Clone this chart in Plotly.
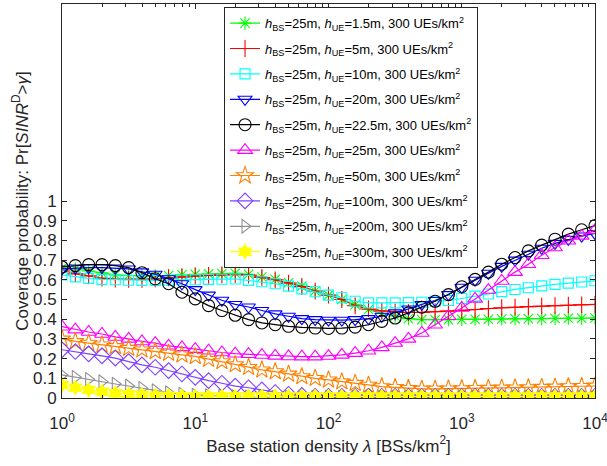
import numpy as np
import plotly.graph_objects as go

# x: base station density, 10 points per decade from 1 to 1e4
k = np.arange(41)
density = 10 ** (k / 10)

h_ue_labels = ["1.5m", "5m", "10m", "20m", "22.5m", "25m", "50m", "100m", "200m", "300m"]

cov_1p5 = [0.66, 0.655, 0.645, 0.635, 0.625, 0.622, 0.62, 0.62, 0.622, 0.625,
           0.628, 0.63, 0.632, 0.633, 0.628, 0.614, 0.602, 0.585, 0.568, 0.543,
           0.522, 0.50, 0.474, 0.449, 0.429, 0.415, 0.403, 0.398, 0.397, 0.398,
           0.399, 0.40, 0.40, 0.401, 0.402, 0.403, 0.403, 0.404, 0.405, 0.405, 0.406]
cov_5 = [0.65, 0.63, 0.62, 0.608, 0.603, 0.602, 0.602, 0.605, 0.61, 0.615,
         0.62, 0.622, 0.625, 0.627, 0.624, 0.612, 0.60, 0.583, 0.566, 0.543,
         0.522, 0.50, 0.468, 0.452, 0.442, 0.437, 0.434, 0.435, 0.438, 0.441,
         0.445, 0.449, 0.454, 0.458, 0.461, 0.464, 0.466, 0.469, 0.471, 0.473, 0.475]
cov_10 = [0.625, 0.615, 0.607, 0.602, 0.60, 0.598, 0.597, 0.597, 0.598, 0.60,
          0.60, 0.602, 0.603, 0.604, 0.597, 0.59, 0.58, 0.568, 0.554, 0.539,
          0.522, 0.509, 0.491, 0.483, 0.483, 0.483, 0.484, 0.486, 0.491, 0.495,
          0.505, 0.517, 0.528, 0.54, 0.551, 0.56, 0.569, 0.577, 0.583, 0.589, 0.595]
cov_20 = [0.655, 0.66, 0.662, 0.662, 0.66, 0.655, 0.64, 0.628, 0.605, 0.58,
          0.55, 0.522, 0.496, 0.475, 0.462, 0.444, 0.427, 0.415, 0.403, 0.398,
          0.395, 0.395, 0.398, 0.403, 0.415, 0.432, 0.452, 0.475, 0.495, 0.525,
          0.562, 0.598, 0.633, 0.668, 0.70, 0.73, 0.76, 0.785, 0.805, 0.822, 0.835]
cov_22p5 = [0.665, 0.672, 0.677, 0.677, 0.672, 0.662, 0.636, 0.605, 0.58, 0.537,
            0.503, 0.469, 0.444, 0.42, 0.398, 0.381, 0.372, 0.364, 0.359, 0.355,
            0.353, 0.355, 0.36, 0.372, 0.389, 0.406, 0.432, 0.461, 0.491, 0.525,
            0.565, 0.602, 0.639, 0.679, 0.713, 0.747, 0.776, 0.806, 0.832, 0.854, 0.875]
cov_25 = [0.362, 0.347, 0.335, 0.325, 0.31, 0.30, 0.287, 0.279, 0.265, 0.257,
          0.248, 0.24, 0.231, 0.225, 0.222, 0.218, 0.214, 0.211, 0.21, 0.21,
          0.213, 0.219, 0.228, 0.24, 0.257, 0.279, 0.30, 0.33, 0.372, 0.415,
          0.457, 0.503, 0.548, 0.594, 0.639, 0.679, 0.725, 0.764, 0.798, 0.823, 0.852]
cov_50 = [0.30, 0.287, 0.279, 0.27, 0.262, 0.253, 0.245, 0.236, 0.228, 0.219,
          0.211, 0.197, 0.185, 0.17, 0.156, 0.143, 0.134, 0.122, 0.109, 0.10,
          0.092, 0.083, 0.075, 0.066, 0.058, 0.054, 0.049, 0.046, 0.046, 0.047,
          0.048, 0.049, 0.05, 0.051, 0.052, 0.053, 0.055, 0.056, 0.058, 0.059, 0.061]
cov_100 = [0.245, 0.236, 0.224, 0.214, 0.202, 0.185, 0.168, 0.156, 0.139, 0.122,
           0.105, 0.088, 0.075, 0.06, 0.052, 0.041, 0.028, 0.019, 0.013, 0.009,
           0.008, 0.008, 0.008, 0.008, 0.008, 0.008, 0.008, 0.008, 0.008, 0.008,
           0.008, 0.008, 0.008, 0.008, 0.008, 0.008, 0.008, 0.008, 0.008, 0.008, 0.008]
cov_200 = [0.117, 0.105, 0.095, 0.083, 0.071, 0.061, 0.049, 0.037, 0.027, 0.02,
           0.015, 0.012, 0.009, 0.007, 0.006, 0.006, 0.005, 0.005, 0.005, 0.005,
           0.005, 0.005, 0.005, 0.005, 0.005, 0.005, 0.005, 0.005, 0.005, 0.005,
           0.005, 0.005, 0.005, 0.005, 0.005, 0.005, 0.005, 0.005, 0.005, 0.005, 0.005]
cov_300 = [0.066, 0.053, 0.041, 0.032, 0.024, 0.019, 0.015, 0.012, 0.01, 0.009,
           0.008, 0.008, 0.008, 0.008, 0.008, 0.008, 0.008, 0.008, 0.008, 0.008,
           0.008, 0.008, 0.008, 0.008, 0.008, 0.008, 0.008, 0.008, 0.008, 0.008,
           0.008, 0.008, 0.008, 0.008, 0.008, 0.008, 0.008, 0.008, 0.008, 0.008, 0.008]

series = [cov_1p5, cov_5, cov_10, cov_20, cov_22p5, cov_25, cov_50, cov_100, cov_200, cov_300]

colors = ["#00ff00", "#ff0000", "#00ffff", "#0000ff", "#000000",
          "#ff00ff", "#ff8000", "#7f40ff", "#909090", "#ffff00"]
symbols = ["asterisk-open", "cross-thin-open", "square-open", "triangle-down-open", "circle-open",
           "triangle-up-open", "star-open", "diamond-open", "triangle-right-open", "hexagram"]
sizes = [11, 12, 10, 12, 12, 13, 13, 12, 12, 11]

x_tickvals = [1, 10, 100, 1000, 10000]
x_ticktext = ["10<sup>0</sup>", "10<sup>1</sup>", "10<sup>2</sup>", "10<sup>3</sup>", "10<sup>4</sup>"]
y_tickvals = [round(0.1 * i, 1) for i in range(11)]
y_ticktext = ["0", "0.1", "0.2", "0.3", "0.4", "0.5", "0.6", "0.7", "0.8", "0.9", "1"]

fig = go.Figure()
for i, (lab, vals) in enumerate(zip(h_ue_labels, series)):
    name = f"<i>h</i><sub>BS</sub>=25m, <i>h</i><sub>UE</sub>={lab}, 300 UEs/km<sup>2</sup>"
    marker = dict(symbol=symbols[i], size=sizes[i], color=colors[i],
                  line=dict(color=colors[i], width=1.1))
    fig.add_trace(go.Scatter(
        x=density, y=vals, mode="lines+markers", name=name,
        legendgroup=f"g{i}",
        line=dict(color=colors[i], width=1.2),
        marker=marker,
    ))

font_family = "Liberation Sans, Arial, sans-serif"
fig.update_layout(
    width=607, height=466,
    margin=dict(l=62, r=12, t=4, b=68, autoexpand=False),
    paper_bgcolor="white", plot_bgcolor="white",
    font=dict(family=font_family, size=16, color="#262626"),
    showlegend=True,
    legend=dict(x=0.304, y=0.992, xanchor="left", yanchor="top",
                bgcolor="white", bordercolor="#262626", borderwidth=1,
                font=dict(family=font_family, size=13, color="#000000"),
                tracegroupgap=5.5, itemwidth=30),
    xaxis=dict(type="log", range=[0, 4], tickvals=x_tickvals, ticktext=x_ticktext,
               ticks="inside", ticklen=5, tickcolor="#262626",
               showline=True, linecolor="#262626", linewidth=1, mirror="ticks",
               showgrid=False, zeroline=False, automargin=False,
               ticklabeloverflow="allow", ticklabelstandoff=10,
               tickfont=dict(size=17),
               minor=dict(ticks="inside", ticklen=3, tickcolor="#262626", dtick="D1", showgrid=False),
               title=dict(text="Base station density <i>λ</i> [BSs/km<sup>2</sup>]",
                          font=dict(size=17), standoff=0)),
    yaxis=dict(range=[0, 2], tickvals=y_tickvals, ticktext=y_ticktext,
               ticks="inside", ticklen=5, tickcolor="#262626",
               showline=True, linecolor="#262626", linewidth=1, mirror="ticks",
               showgrid=False, zeroline=False, automargin=False,
               ticklabelstandoff=1,
               tickfont=dict(size=17),
               title=dict(text="Coverage probability: Pr[<i>SINR</i><sup>D</sup>><i>γ</i>]",
                          font=dict(size=17), standoff=0)),
)

fig.write_html("out.html", config={"displayModeBar": False},
               post_script="document.body.style.margin='0';document.body.style.padding='0';")
